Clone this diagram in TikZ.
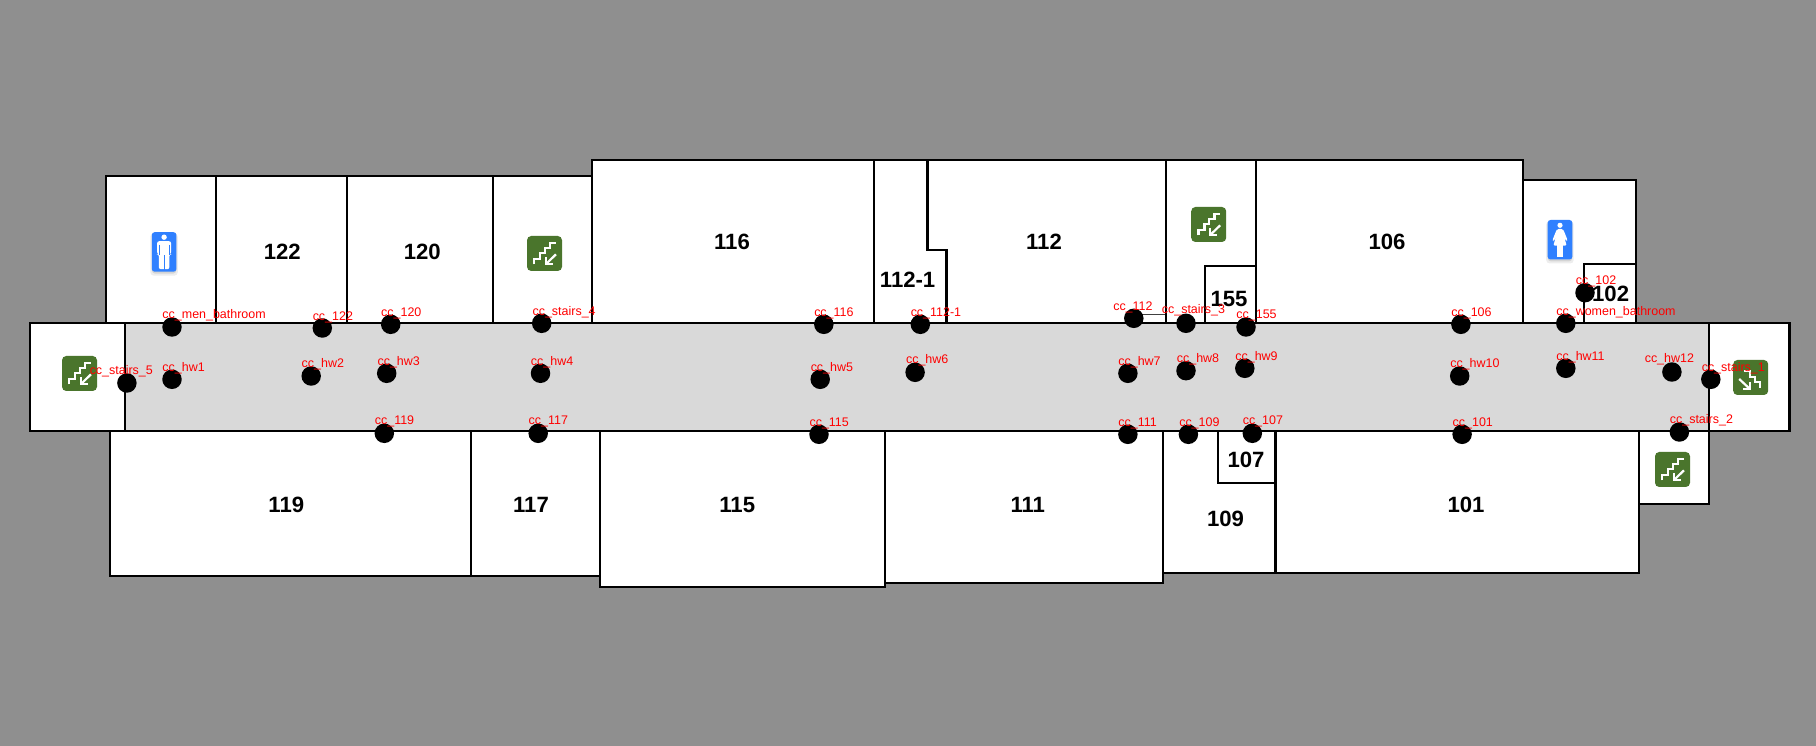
\documentclass[tikz,border=0pt]{standalone}
\usepackage{xcolor}
\usepackage{fontspec}
\setmainfont{Liberation Sans}
\newfontfamily\tagfont{Liberation Sans}
\definecolor{floorbg}{HTML}{8F8F8F}
\definecolor{hallgray}{HTML}{D9D9D9}
\definecolor{stairgreen}{HTML}{4A752C}
\definecolor{signblue}{HTML}{2F80FF}
\tikzset{
 room/.style={draw=black,fill=white,line width=1.25pt,line join=miter},
 roomno/.style={font=\bfseries\fontsize{12.6}{12.6}\selectfont,text=black,inner sep=0pt},
 dot/.style={circle,fill=black,draw=none,minimum size=0.39cm,inner sep=0pt},
 tag/.style={font=\tagfont\fontsize{7.1}{7.1}\selectfont,text=red,inner sep=0pt,anchor=base west,yshift=-0.5pt},
 stairline/.style={draw=white,line width=1.25pt,line cap=butt,fill=none},
 stairsdown/.pic={
  \fill[stairgreen,rounded corners=2.4pt] (0,0) rectangle (35,35);
  \draw[stairline] (7.3,28.3) -- (7.3,22.7) -- (13.3,22.7) -- (13.3,17.3) -- (18,17.3) -- (18,12) -- (23.3,12) -- (23.3,7.3) -- (29,7.3);
  \draw[stairline] (29,18.3) -- (19,28);
  \draw[stairline] (18.7,21.5) -- (18.7,28.3) -- (25.5,28.3);
 },
 stairsup/.pic={
  \fill[stairgreen,rounded corners=2.4pt] (0,0) rectangle (35,35);
  \draw[stairline] (10.7,10.7) -- (16.7,10.7) -- (16.7,16.7) -- (21.7,16.7) -- (21.7,22.3) -- (26.7,22.3) -- (26.7,28.3);
  \draw[stairline] (6,19) -- (16.4,28.7);
  \draw[stairline] (16.7,21.8) -- (16.7,29) -- (9.6,29);
 },
 signbase/.pic={
  \fill[black,opacity=0.07,rounded corners=2pt] (-1.5,1) rectangle (26,43.5);
  \fill[black,opacity=0.1,rounded corners=2pt] (0,1) rectangle (24.6,41.5);
  \fill[signblue,rounded corners=1.6pt] (0,0) rectangle (24.6,39.5);
 },
 mansign/.pic={
  \pic at (0,0) {signbase};
  \fill[white] (12.3,5) circle (2.7);
  \fill[white,rounded corners=1.2pt] (5.3,22) -- (5.3,9) -- (19.3,9) -- (19.3,22) -- (17.6,22) -- (17.6,37) -- (7,37) -- (7,22) -- cycle;
  \draw[signblue,line width=0.35pt] (12.3,23) -- (12.3,37.5);
  \draw[signblue,line width=0.35pt] (7.2,12.5) -- (7.2,22.5);
  \draw[signblue,line width=0.35pt] (17.4,12.5) -- (17.4,22.5);
 },
 womansign/.pic={
  \pic at (0,0) {signbase};
  \fill[white] (12.3,5.3) circle (2.6);
  \fill[white,rounded corners=0.8pt] (9.5,9) -- (15.1,9) -- (16.2,11) -- (20,20.5) -- (18.5,21.2) -- (16.3,16.5) -- (19,25.7) -- (5.6,25.7) -- (8.3,16.5) -- (6.1,21.2) -- (4.6,20.5) -- (8.4,11) -- cycle;
  \fill[white] (9.7,25) rectangle (11.9,36.8);
  \fill[white] (12.7,25) rectangle (14.9,36.8);
 },
}

\begin{document}
\begin{tikzpicture}[x=0.02cm,y=-0.02cm]
 \useasboundingbox (0,0) rectangle (1816,746);
 \fill[floorbg] (0,0) rectangle (1816,746);
 % upper rooms
 \draw[room] (106,176) rectangle (216.3,323);
 \draw[room] (216.3,176) rectangle (347.2,323);
 \draw[room] (347.2,176) rectangle (493,323);
 \draw[room] (493,176) rectangle (592,323);
 \draw[room] (592,160) rectangle (873.6,323);
 \draw[room] (873.6,160) -- (927.4,160) -- (927.4,250) -- (946.4,250) -- (946.4,323) -- (873.6,323) -- cycle;
 \draw[room] (927.4,160) -- (1165.8,160) -- (1165.8,323) -- (946.4,323) -- (946.4,250) -- (927.4,250) -- cycle;
 \draw[black!75,line width=0.85pt] (1133.8,323) -- (1133.8,314.3) -- (1165.8,314.3);
 \draw[room] (1165.8,160) rectangle (1256.2,323);
 \draw[room] (1205,266.3) rectangle (1256.2,323);
 \draw[room] (1256.2,160) rectangle (1523,323);
 \draw[room] (1523,180) rectangle (1636.1,323);
 \draw[room] (1583.9,264) rectangle (1636.1,323);
 % lower rooms
 \draw[room] (110.3,431) rectangle (471.3,575.7);
 \draw[room] (471.3,431) rectangle (599.8,575.7);
 \draw[room] (599.8,431) rectangle (884.7,586.7);
 \draw[room] (884.7,431) rectangle (1163,583);
 \draw[room] (1163,431) rectangle (1275.4,572.7);
 \draw[room] (1217.7,431) rectangle (1275.4,482.7);
 \draw[room] (1275.4,431) rectangle (1638.9,572.7);
 \draw[room] (1638.9,431) rectangle (1709.2,503.7);
 % hallway
 \draw[room] (30.4,323) rectangle (1789.4,431);
 \draw[room,fill=hallgray] (125.3,323) rectangle (1709.2,431);
 % signs
 \pic at (151.8,232.2) {mansign};
 \pic at (1547.7,220) {womansign};
 \pic at (527,236) {stairsdown};
 \pic at (62,356) {stairsdown};
 \pic at (1191.2,207) {stairsdown};
 \pic at (1655,452) {stairsdown};
 \pic at (1733.2,360) {stairsup};
 % room numbers
 \node[roomno] (no122) at (282.3,251.7) {122};
 \node[roomno] (no120) at (422.3,251.7) {120};
 \node[roomno] (no116) at (732,242) {116};
 \node[roomno] (no112a) at (907.6,280) {112-1};
 \node[roomno] (no112) at (1044,242) {112};
 \node[roomno] (no155) at (1229,299) {155};
 \node[roomno] (no106) at (1387,242) {106};
 \node[roomno] (no102) at (1610.6,294) {102};
 \node[roomno] (no119) at (286.3,505) {119};
 \node[roomno] (no117) at (531,505) {117};
 \node[roomno] (no115) at (737.2,505) {115};
 \node[roomno] (no111) at (1027.8,505) {111};
 \node[roomno] (no107) at (1246,460) {107};
 \node[roomno] (no109) at (1225.5,519) {109};
 \node[roomno] (no101) at (1466,505) {101};
 % points
 \node[dot] (ccmen) at (172,327) {};
 \node[dot] (cc122) at (322.3,328) {};
 \node[dot] (cc120) at (390.7,324.3) {};
 \node[dot] (ccstairsfour) at (541.7,323.3) {};
 \node[dot] (ccstairsfive) at (126.9,383) {};
 \node[dot] (cchwone) at (172,379.3) {};
 \node[dot] (cchwtwo) at (311.2,376) {};
 \node[dot] (cchwthree) at (386.7,373.3) {};
 \node[dot] (cchwfour) at (540.5,373.3) {};
 \node[dot] (cc119) at (384.3,433.3) {};
 \node[dot] (cc117) at (538.2,433.3) {};
 \node[dot] (cc116) at (823.8,324.3) {};
 \node[dot] (cc112a) at (920.3,324.3) {};
 \node[dot] (cc112) at (1133.8,318.3) {};
 \node[dot] (ccstairsthree) at (1186,323.3) {};
 \node[dot] (cchwfive) at (820.2,379.3) {};
 \node[dot] (cchwsix) at (915.1,372.3) {};
 \node[dot] (cchwseven) at (1127.9,373.3) {};
 \node[dot] (cchweight) at (1186,370.7) {};
 \node[dot] (cc115) at (819,434.3) {};
 \node[dot] (cc111) at (1127.9,434.3) {};
 \node[dot] (cc109) at (1188.4,434.3) {};
 \node[dot] (cc155) at (1246,327) {};
 \node[dot] (cc106) at (1460.9,324.3) {};
 \node[dot] (cc102) at (1585,292.7) {};
 \node[dot] (ccwomen) at (1565.8,323.3) {};
 \node[dot] (cchwnine) at (1244.8,368.3) {};
 \node[dot] (cchwten) at (1459.7,376) {};
 \node[dot] (cchweleven) at (1565.8,368.3) {};
 \node[dot] (cchwtwelve) at (1671.9,372) {};
 \node[dot] (ccstairsone) at (1710.8,379.3) {};
 \node[dot] (ccstairstwo) at (1679.4,432) {};
 \node[dot] (cc107) at (1252.3,433.3) {};
 \node[dot] (cc101) at (1462.1,434.3) {};
 % point names
 \node[tag] (tagmen) at (162.1,318) {cc\_men\_bathroom};
 \node[tag] (tag122) at (312.4,319.3) {cc\_122};
 \node[tag] (tag120) at (380.8,315.3) {cc\_120};
 \node[tag] (tagstairsfour) at (532.2,314.7) {cc\_stairs\_4};
 \node[tag] (tagstairsfive) at (89.4,373.7) {cc\_stairs\_5};
 \node[tag] (taghwone) at (162.1,370.7) {cc\_hw1};
 \node[tag] (taghwtwo) at (301.3,366.7) {cc\_hw2};
 \node[tag] (taghwthree) at (377.2,364.3) {cc\_hw3};
 \node[tag] (taghwfour) at (530.6,364.3) {cc\_hw4};
 \node[tag] (tag119) at (374.5,424) {cc\_119};
 \node[tag] (tag117) at (528.3,424) {cc\_117};
 \node[tag] (tag116) at (813.9,315.3) {cc\_116};
 \node[tag] (tag112a) at (910.4,315.3) {cc\_112-1};
 \node[tag] (tag112) at (1112.9,309.7) {cc\_112};
 \node[tag] (tagstairsthree) at (1161.5,312.7) {cc\_stairs\_3};
 \node[tag] (taghwfive) at (810.4,370.7) {cc\_hw5};
 \node[tag] (taghwsix) at (905.7,363) {cc\_hw6};
 \node[tag] (taghwseven) at (1118,364.3) {cc\_hw7};
 \node[tag] (taghweight) at (1176.5,362) {cc\_hw8};
 \node[tag] (tag115) at (809.2,425.7) {cc\_115};
 \node[tag] (tag111) at (1118,425.7) {cc\_111};
 \node[tag] (tag109) at (1178.9,425.7) {cc\_109};
 \node[tag] (tag155) at (1236.1,317.7) {cc\_155};
 \node[tag] (tag106) at (1451,315.3) {cc\_106};
 \node[tag] (tag102) at (1575.6,283.7) {cc\_102};
 \node[tag] (tagwomen) at (1556,314.7) {cc\_women\_bathroom};
 \node[tag] (taghwnine) at (1235,359.7) {cc\_hw9};
 \node[tag] (taghwten) at (1449.9,366.7) {cc\_hw10};
 \node[tag] (taghweleven) at (1556,359.7) {cc\_hw11};
 \node[tag] (taghwtwelve) at (1644.4,362) {cc\_hw12};
 \node[tag] (tagstairsone) at (1701.4,370.7) {cc\_stairs\_1};
 \node[tag] (tagstairstwo) at (1669.5,423) {cc\_stairs\_2};
 \node[tag] (tag107) at (1242.4,424) {cc\_107};
 \node[tag] (tag101) at (1452.3,425.7) {cc\_101};
\end{tikzpicture}
\end{document}
